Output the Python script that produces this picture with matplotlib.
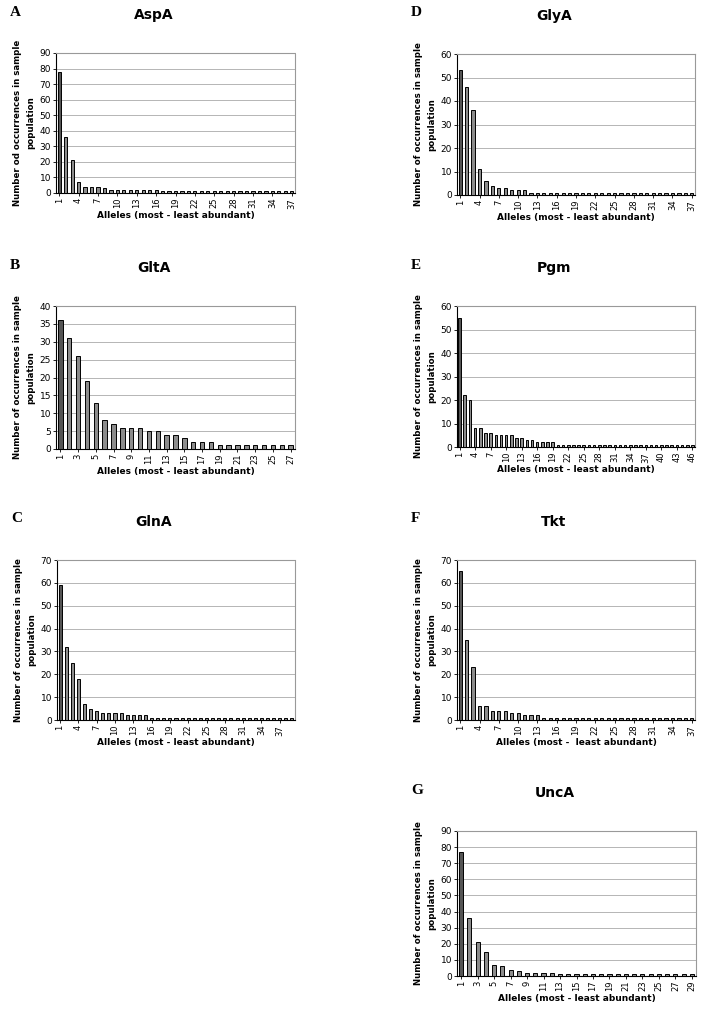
import numpy as np
import matplotlib
matplotlib.use("Agg")
import matplotlib.pyplot as plt

W, H = 707, 1009

# Allele counts per locus (most -> least abundant)
asp_a = [78, 36, 21, 7, 4, 4, 4, 3, 2, 2, 2, 2, 2, 2, 2, 2] + [1] * 21
glt_a = [36, 31, 26, 19, 13, 8, 7, 6, 6, 6, 5, 5, 4, 4, 3, 2, 2, 2] + [1] * 9
gln_a = [59, 32, 25, 18, 7, 5, 4, 3, 3, 3, 3, 2, 2, 2, 2] + [1] * 24
gly_a = [53, 46, 36, 11, 6, 4, 3, 3, 2, 2, 2] + [1] * 26
pgm = [55, 22, 20, 8, 8, 6, 6, 5, 5, 5, 5, 4, 4, 3, 3, 2, 2, 2, 2] + [1] * 27
tkt = [65, 35, 23, 6, 6, 4, 4, 4, 3, 3, 2, 2, 2] + [1] * 24
unc_a = [77, 36, 21, 15, 7, 6, 4, 3, 2, 2, 2, 2] + [1] * 17

# panel letter, title, data, ymax, ystep, xtick step, y-label, x-label,
# axes box in pixels (left, top, right, bottom)
panels = [
    ("A", "AspA", asp_a, 90, 10, 3, "Number od occurrences in sample\npopulation",
     "Alleles (most - least abundant)", (56, 53, 295, 193)),
    ("B", "GltA", glt_a, 40, 5, 2, "Number of occurrences in sample\npopulation",
     "Alleles (most - least abundant)", (56, 306, 295, 449)),
    ("C", "GlnA", gln_a, 70, 10, 3, "Number of occurrences in sample\npopulation",
     "Alleles (most - least abundant)", (57, 560, 295, 720)),
    ("D", "GlyA", gly_a, 60, 10, 3, "Number of occurrences in sample\npopulation",
     "Alleles (most - least abundant)", (457, 54, 695, 195)),
    ("E", "Pgm", pgm, 60, 10, 3, "Number of occurrences in sample\npopulation",
     "Alleles (most - least abundant)", (457, 306, 695, 447)),
    ("F", "Tkt", tkt, 70, 10, 3, "Number of occurrences in sample\npopulation",
     "Alleles (most -  least abundant)", (457, 560, 695, 720)),
    ("G", "UncA", unc_a, 90, 10, 2, "Number of occurrences in sample\npopulation",
     "Alleles (most - least abundant)", (457, 831, 696, 976)),
]

fig = plt.figure(figsize=(W / 100, H / 100), dpi=100)
fig.patch.set_facecolor("white")

for letter, title, vals, ymax, ystep, xstep, ylab, xlab, box in panels:
    l, t, r, b = box
    ax = fig.add_axes([l / W, 1 - b / H, (r - l) / W, (b - t) / H])
    n = len(vals)
    x = np.arange(1, n + 1)
    colors = ["#555555"] + ["#8c8c8c"] * (n - 1)
    ax.bar(x, vals, width=0.5, color=colors, edgecolor="black", linewidth=0.7, zorder=3)
    ax.set_xlim(0.5, n + 0.5)
    ax.set_ylim(0, ymax)
    ax.set_yticks(np.arange(0, ymax + 1, ystep))
    ax.set_xticks(np.arange(1, n + 1, xstep))
    ax.tick_params(axis="x", labelsize=6, rotation=90, length=2, width=0.6, pad=1.5)
    ax.tick_params(axis="y", labelsize=6.5, length=2, width=0.6, pad=1.5)
    ax.yaxis.grid(True, color="#999999", linewidth=0.5, zorder=0)
    for side in ("top", "right"):
        ax.spines[side].set_color("#999999")
        ax.spines[side].set_linestyle((0, (1, 1)))
        ax.spines[side].set_linewidth(0.8)
    for side in ("left", "bottom"):
        ax.spines[side].set_color("black")
        ax.spines[side].set_linewidth(0.8)
    ax.set_ylabel(ylab, fontsize=6.2, fontweight="bold", labelpad=3, linespacing=1.6)
    ax.set_xlabel(xlab, fontsize=6.5, fontweight="bold", labelpad=2)

    # panel letter and gene title
    fig.text((l - 46) / W, 1 - (t - 41) / H, letter, fontsize=11, fontweight="bold",
             family="Liberation Serif", ha="left", va="center")
    fig.text(((l + r) / 2 - 22) / W, 1 - (t - 38) / H, title, fontsize=10,
             fontweight="bold", ha="center", va="center")

fig.savefig("out.png", dpi=100)
